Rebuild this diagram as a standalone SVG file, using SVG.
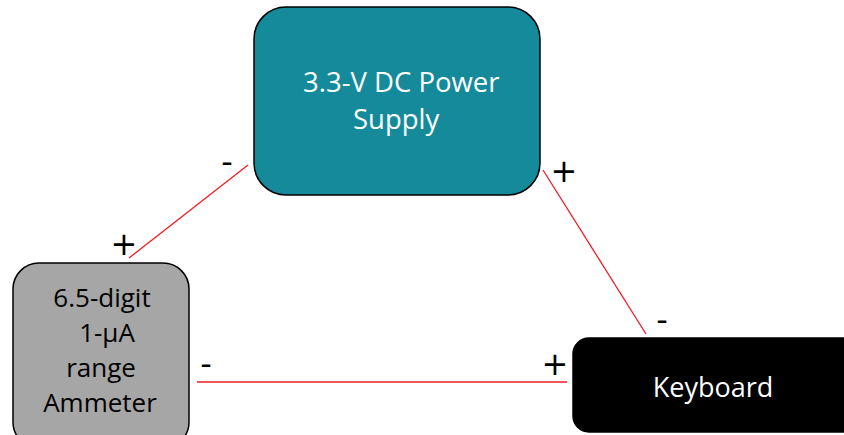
<svg xmlns="http://www.w3.org/2000/svg" width="844" height="435" viewBox="0 0 844 435">
<style>
.lbl{font-family:"Open Sans","Liberation Sans",sans-serif}
.sign{font-family:"DejaVu Sans",sans-serif;font-size:32px;fill:#000}
.wire{stroke:#ee1c24;stroke-width:1.3;fill:none}
</style>
<rect x="0" y="0" width="844" height="435" fill="#fff"/>
<g id="connectors">
<line class="wire" x1="248" y1="165" x2="129" y2="258"/>
<line class="wire" x1="543" y1="170" x2="646" y2="334"/>
<line class="wire" x1="197" y1="382" x2="567" y2="382"/>
</g>
<g id="power">
<rect x="254" y="7" width="286" height="188" rx="32" fill="#148a9b" stroke="#000" stroke-width="1.5"/>
<text class="lbl" font-size="27.5" fill="#fff" x="303" y="92">3.3-V DC Power</text>
<text class="lbl" font-size="27.5" fill="#fff" x="353" y="129">Supply</text>
</g>
<g id="ammeter">
<rect x="13" y="263" width="176" height="185" rx="26" fill="#a6a6a6" stroke="#000" stroke-width="1.5"/>
<text class="lbl" font-size="26" fill="#000" text-anchor="middle" x="102" y="307">6.5-digit</text>
<text class="lbl" font-size="26" fill="#000" text-anchor="middle" x="107" y="342">1-µA</text>
<text class="lbl" font-size="26" fill="#000" text-anchor="middle" x="101" y="377">range</text>
<text class="lbl" font-size="26" fill="#000" text-anchor="middle" x="100" y="412">Ammeter</text>
</g>
<g id="keyboard">
<rect x="573" y="338" width="300" height="94" rx="16" fill="#000" stroke="#000" stroke-width="1.5"/>
<text class="lbl" font-size="27" fill="#fff" text-anchor="middle" x="713" y="397">Keyboard</text>
</g>
<g id="signs">
<text class="sign" text-anchor="middle" x="227" y="173">-</text>
<text class="sign" text-anchor="middle" x="124" y="255">+</text>
<text class="sign" text-anchor="middle" x="564" y="182">+</text>
<text class="sign" text-anchor="middle" x="662" y="331">-</text>
<text class="sign" text-anchor="middle" x="206" y="375">-</text>
<text class="sign" text-anchor="middle" x="555" y="375">+</text>
</g>
</svg>
